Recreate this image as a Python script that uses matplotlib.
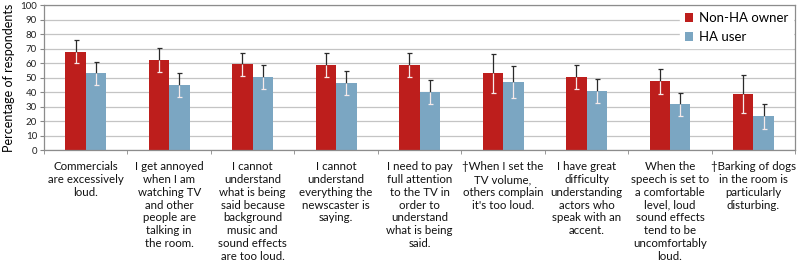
import numpy as np
import matplotlib
matplotlib.use('Agg')
import matplotlib.pyplot as plt

categories = [
    "Commercials\nare excessively\nloud.",
    "I get annoyed\nwhen I am\nwatching TV\nand other\npeople are\ntalking in\nthe room.",
    "I cannot\nunderstand\nwhat is being\nsaid because\nbackground\nmusic and\nsound effects\nare too loud.",
    "I cannot\nunderstand\neverything the\nnewscaster is\nsaying.",
    "I need to pay\nfull attention\nto the TV in\norder to\nunderstand\nwhat is being\nsaid.",
    "\u2020When I set the\nTV volume,\nothers complain\nit's too loud.",
    "I have great\ndifficulty\nunderstanding\nactors who\nspeak with an\naccent.",
    "When the\nspeech is set to\na comfortable\nlevel, loud\nsound effects\ntend to be\nuncomfortably\nloud.",
    "\u2020Barking of dogs\nin the room is\nparticularly\ndisturbing.",
]
series_names = ["Non-HA owner", "HA user"]
non_ha = [67.8, 62.1, 59.1, 58.6, 58.6, 52.9, 50.1, 47.4, 38.6]
non_ha_err = [7.8, 8.0, 8.2, 8.5, 8.4, 13.2, 8.3, 8.4, 12.9]
ha_user = [52.9, 45.0, 50.1, 46.4, 39.8, 46.7, 40.9, 31.7, 23.2]
ha_user_err = [8.2, 8.4, 8.3, 8.5, 8.3, 11.0, 8.4, 8.0, 8.8]
yticks = list(range(0, 101, 10))

red = '#BD1E1C'
blue = '#7BA6C2'
dark = '#2a2a2a'
light = '#f6eaea'

plt.rcParams['font.family'] = ['Lato', 'DejaVu Sans']

fig = plt.figure(figsize=(8, 2.69), dpi=100)
ax = fig.add_axes([0.055, 0.442, 0.939, 0.539])

x = np.arange(len(categories))
w = 0.245

for vals, errs, col, off, name in [(non_ha, non_ha_err, red, -w / 2, series_names[0]),
                                   (ha_user, ha_user_err, blue, w / 2, series_names[1])]:
    vals = np.array(vals)
    errs = np.array(errs)
    xs = x + off
    ax.bar(xs, vals, w, color=col, label=name, zorder=2)
    # upper half: dark, above the bar
    ax.vlines(xs, vals, vals + errs, color=dark, linewidth=0.9, zorder=3)
    ax.plot(xs, vals + errs, ls='none', marker='_', ms=3.6, mew=0.9, color=dark, zorder=3)
    # lower half: light, inside the bar
    ax.vlines(xs, vals - errs, vals, color=light, linewidth=0.9, zorder=4)
    ax.plot(xs, vals - errs, ls='none', marker='_', ms=3.6, mew=0.9, color=light, zorder=4)

ax.set_xlim(-0.5, len(categories) - 0.5)
ax.set_ylim(0, 100)
ax.set_yticks(yticks)
ax.tick_params(axis='y', labelsize=7, length=3, color='#888888', pad=2, labelcolor='#222222')
ax.set_xticks(x)
ax.set_xticklabels(categories, fontsize=8.3, linespacing=1.2)
ax.set_xticks(np.arange(len(categories) + 1) - 0.5, minor=True)
ax.tick_params(axis='x', which='major', length=0, pad=8, labelcolor='#111111')
ax.tick_params(axis='x', which='minor', length=3, color='#888888')
ax.grid(axis='y', color='#c4c4c4', linewidth=0.9)
ax.set_axisbelow(True)
for s in ax.spines.values():
    s.set_color('#8c8c8c')
    s.set_linewidth(0.9)
ax.set_ylabel('Percentage of respondents', fontsize=9, labelpad=4)

leg = ax.legend(loc='upper right', frameon=True, fontsize=9.5, handlelength=0.65,
                handleheight=0.65, handletextpad=0.4, labelspacing=0.5,
                borderaxespad=0.15, fancybox=False)
leg.get_frame().set_edgecolor('white')
leg.get_frame().set_alpha(1)

fig.savefig('out.png', dpi=100)
